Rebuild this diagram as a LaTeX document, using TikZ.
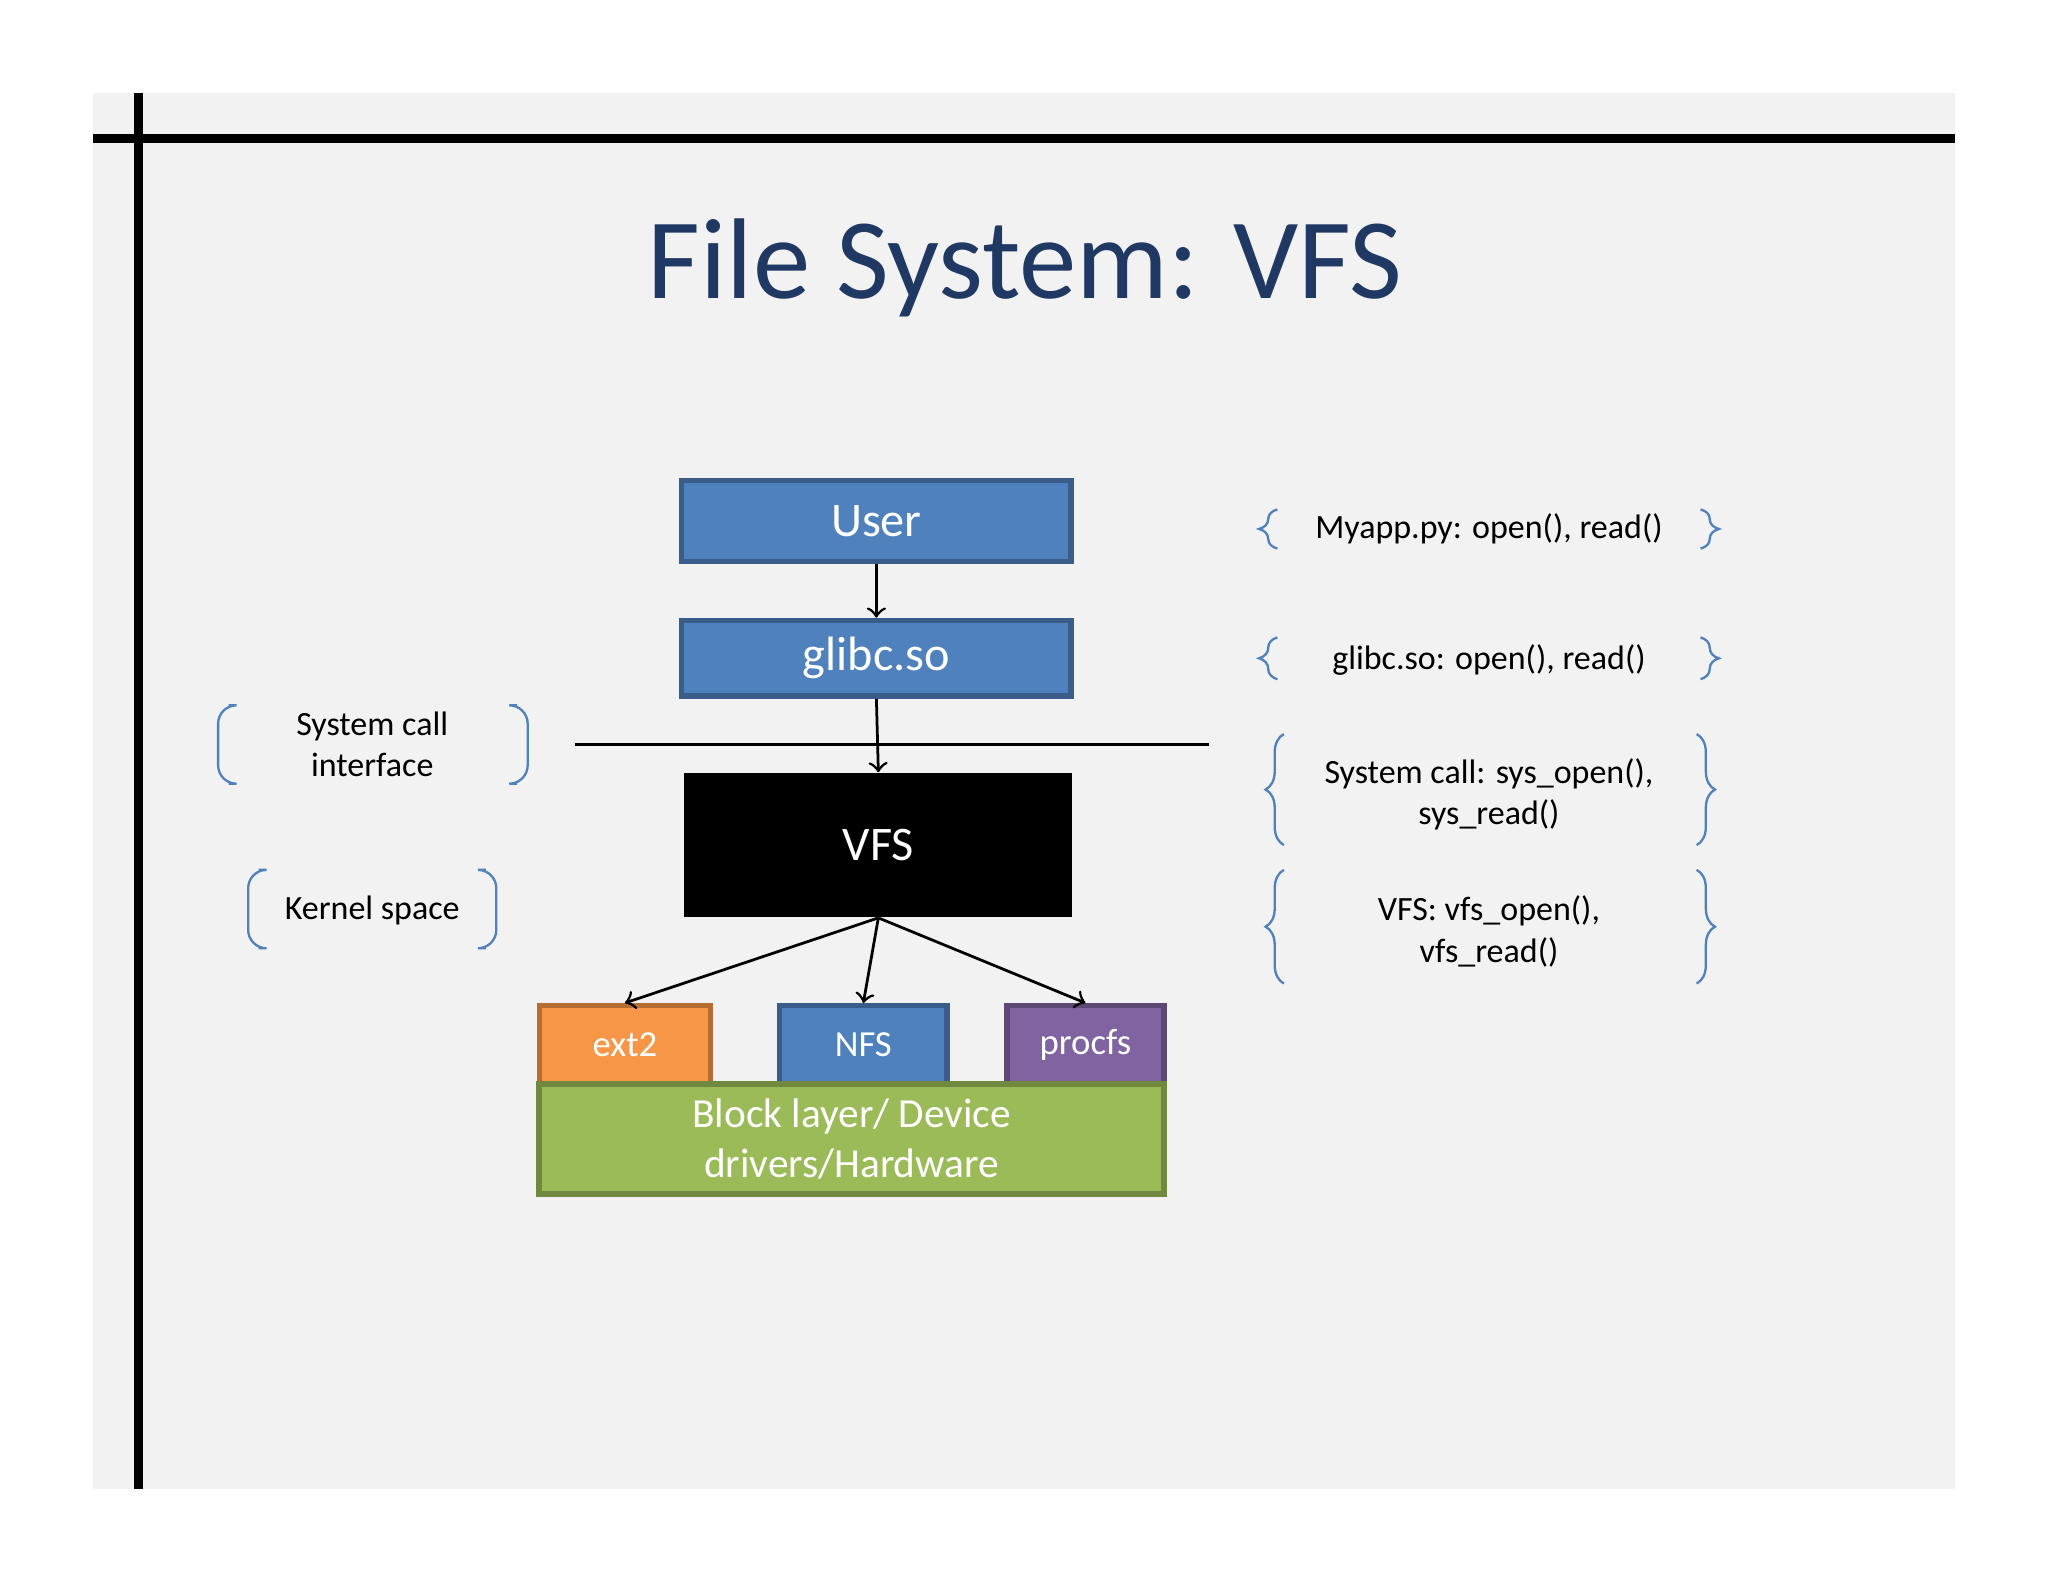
\documentclass[tikz,border=0pt]{standalone}
\usepackage{fontspec}
\setmainfont{Carlito}
\usetikzlibrary{decorations.pathreplacing}
\definecolor{bg}{HTML}{F2F2F2}
\definecolor{ttl}{HTML}{1F3864}
\definecolor{bfill}{HTML}{4F81BD}
\definecolor{bline}{HTML}{385D8A}
\definecolor{ofill}{HTML}{F79646}
\definecolor{oline}{HTML}{B66D31}
\definecolor{pfill}{HTML}{8064A2}
\definecolor{pline}{HTML}{5C4776}
\definecolor{gfill}{HTML}{9BBB59}
\definecolor{gline}{HTML}{71893F}
\begin{document}
\begin{tikzpicture}[x=0.01cm,y=-0.01cm,
  box/.style={draw=bline,fill=bfill,line width=1.2pt,text=white,inner sep=0pt},
  lbl/.style={font=\fontsize{7.4pt}{9pt}\selectfont,align=center},
  arr/.style={->,>=to,line width=0.6pt},
  brk/.style={draw=bfill,line width=0.5pt,rounded corners=4pt},
  crl/.style={draw=bfill,line width=0.5pt,decorate,decoration={brace,amplitude=4pt}}]
\useasboundingbox (0,0) rectangle (1568,1211);
\fill[white] (0,0) rectangle (1568,1211);
\fill[bg] (71,71) rectangle (1497,1140);
\draw[line width=2pt] (71,106) -- (1497,106);
\draw[line width=2pt] (106,71) -- (106,1140);
\node[text=ttl,font=\fontsize{25pt}{30pt}\selectfont] (title) at (785,205) {File System: VFS};
% boxes
\node[box,minimum width=2.98cm,minimum height=0.62cm,font=\fontsize{10.5pt}{12pt}\selectfont] (user) at (671,399) {User};
\node[box,minimum width=2.98cm,minimum height=0.58cm,font=\fontsize{10.5pt}{12pt}\selectfont] (glibc) at (671,504) {glibc.so};
\node[fill=black,text=white,minimum width=2.97cm,minimum height=1.10cm,inner sep=0pt,font=\fontsize{10.5pt}{12pt}\selectfont] (vfs) at (672.5,647) {VFS};
\node[draw=oline,fill=ofill,line width=1.2pt,text=white,minimum width=1.31cm,minimum height=0.60cm,inner sep=0pt,font=\fontsize{8pt}{9pt}\selectfont] (ext) at (478.5,800) {ext2};
\node[box,minimum width=1.28cm,minimum height=0.60cm,font=\fontsize{8pt}{9pt}\selectfont] (nfs) at (661,800) {NFS};
\node[draw=pline,fill=pfill,line width=1.2pt,text=white,minimum width=1.20cm,minimum height=0.60cm,inner sep=0pt,font=\fontsize{8pt}{9pt}\selectfont] (proc) at (831,800) {procfs};
\node[draw=gline,fill=gfill,line width=1.2pt,text=white,minimum width=4.78cm,minimum height=0.84cm,inner sep=0pt,align=center,font=\fontsize{9pt}{11pt}\selectfont] (blk) at (652,872) {Block layer/ Device\\drivers/Hardware};
% syscall line
\coordinate (la) at (440,570);
\coordinate (lb) at (926,570);
\draw[line width=0.6pt] (la) -- (lb);
% arrows
\draw[arr] (user.south) -- (glibc.north);
\draw[arr] (glibc.south) -- (vfs.north);
\draw[arr] (vfs.south) -- (ext.north);
\draw[arr] (vfs.south) -- (nfs.north);
\draw[arr] (vfs.south) -- (proc.north);
% left labels
\node[lbl] (sci) at (285,570) {System call\\interface};
\draw[brk] (175,540) -- (167,540) -- (167,600) -- (175,600);
\draw[brk] (396,540) -- (404,540) -- (404,600) -- (396,600);
\node[lbl] (ks) at (285,697) {Kernel space};
\draw[brk] (198,666) -- (190,666) -- (190,726) -- (198,726);
\draw[brk] (372,666) -- (380,666) -- (380,726) -- (372,726);
% right labels
\node[lbl] (r1) at (1140,405) {Myapp.py: open(), read()};
\draw[crl] (978,420) -- (978,390);
\draw[crl] (1302,390) -- (1302,420);
\node[lbl] (r2) at (1140,505) {glibc.so: open(), read()};
\draw[crl] (978,520) -- (978,488);
\draw[crl] (1302,488) -- (1302,520);
\node[lbl] (r3) at (1140,608) {System call: sys\_open(),\\sys\_read()};
\draw[crl] (983,647) -- (983,562);
\draw[crl] (1299,562) -- (1299,647);
\node[lbl] (r4) at (1140,713) {VFS: vfs\_open(),\\vfs\_read()};
\draw[crl] (983,753) -- (983,666);
\draw[crl] (1299,666) -- (1299,753);
\end{tikzpicture}
\end{document}
